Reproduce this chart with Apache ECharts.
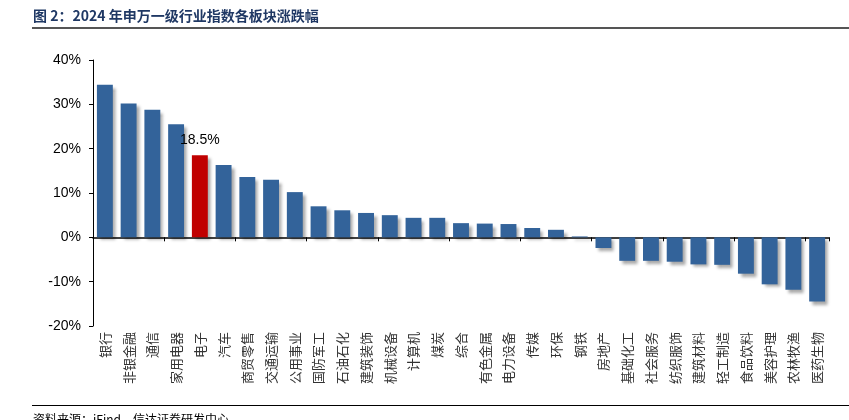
<!DOCTYPE html>
<html>
<head>
<meta charset="utf-8">
<script src="https://cdn.jsdelivr.net/npm/echarts@6/dist/echarts.min.js"></script>
<style>
html,body{margin:0;padding:0;background:#fff;}
#chart{width:849px;height:420px;}
</style>
</head>
<body>
<div id="chart"></div>
<script>
var categories = ['银行','非银金融','通信','家用电器','电子','汽车','商贸零售','交通运输','公用事业','国防军工','石油石化','建筑装饰','机械设备','计算机','煤炭','综合','有色金属','电力设备','传媒','环保','钢铁','房地产','基础化工','社会服务','纺织服饰','建筑材料','轻工制造','食品饮料','美容护理','农林牧渔','医药生物'];
var values = [34.4,30.2,28.8,25.5,18.5,16.3,13.6,13.0,10.2,7.0,6.1,5.5,5.0,4.4,4.4,3.2,3.1,3.0,2.1,1.7,0.2,-2.4,-5.3,-5.3,-5.5,-6.1,-6.2,-8.2,-10.6,-11.8,-14.5];
var highlightName = '电子';
var yTicks = [-20,-10,0,10,20,30,40];

var blue = '#33639a', red = '#c00000';
var chart = echarts.init(document.getElementById('chart'), null, {renderer:'canvas'});
var data = values.map(function(v,i){
  var hl = categories[i] === highlightName;
  return {
    value: v,
    itemStyle: {color: hl ? red : blue},
    label: hl ? {show:true, position:'top', distance:8, formatter: function(p){return p.value.toFixed(1)+'%';},
      color:'#000', fontSize:14, fontFamily:'Liberation Sans'} : {show:false}
  };
});
chart.setOption({
  animation:false,
  grid:{left:93, right:20, top:60, bottom:94, containLabel:false},
  xAxis:[{
    type:'category', data:categories, boundaryGap:true,
    axisLine:{onZero:true, lineStyle:{color:'#000', width:1.5}},
    axisTick:{show:true, alignWithLabel:false, length:4, inside:false, lineStyle:{color:'#000'}},
    axisLabel:{show:false}
  },{
    type:'category', data:categories, position:'bottom',
    axisLine:{show:false, onZero:false}, axisTick:{show:false},
    axisLabel:{show:true, interval:0, rotate:90, margin:6, color:'#333', fontSize:13, fontFamily:'Noto Sans CJK SC'}
  }],
  yAxis:{
    type:'value', min:yTicks[0], max:yTicks[yTicks.length-1], interval:10,
    axisLine:{show:true, lineStyle:{color:'#000', width:1}},
    axisTick:{show:true, length:4, lineStyle:{color:'#000'}},
    splitLine:{show:false},
    axisLabel:{formatter:'{value}%', color:'#000', fontSize:14, fontFamily:'Liberation Sans', margin:12}
  },
  series:[{
    type:'bar', xAxisIndex:0, data:data, barWidth:'67%',
    itemStyle:{shadowColor:'rgba(0,0,0,0.35)', shadowBlur:3, shadowOffsetX:3, shadowOffsetY:3}
  }],
  graphic:[
    {type:'text', left:33, top:9, style:{text:'图 2：2024 年申万一级行业指数各板块涨跌幅', fill:'#1f3864', font:'bold 14px "Noto Sans CJK SC", sans-serif'}},
    {type:'rect', shape:{x:32, y:27, width:817, height:2}, style:{fill:'#555'}},
    {type:'rect', shape:{x:32, y:405, width:817, height:1}, style:{fill:'#000'}},
    {type:'text', left:33, top:413, style:{text:'资料来源：iFind，信达证券研发中心', fill:'#000', font:'12px "Noto Sans CJK SC", sans-serif'}}
  ]
});
</script>
</body>
</html>
